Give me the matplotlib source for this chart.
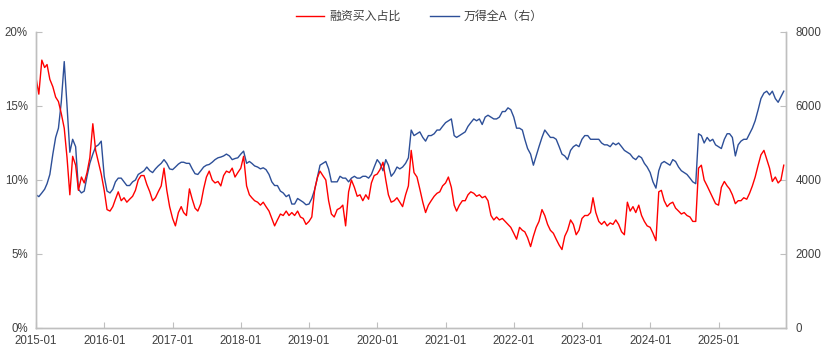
import numpy as np
import pandas as pd
import matplotlib
matplotlib.use("Agg")
import matplotlib.pyplot as plt
import matplotlib.dates as mdates
from matplotlib.ticker import FuncFormatter, MultipleLocator

plt.rcParams['font.family'] = ['Liberation Sans', 'Noto Sans CJK SC', 'DejaVu Sans']

# semi-monthly readings (1st and 16th of each month), Jan 2015 - Dec 2025
# 融资买入占比, %
margin_buy_pct = [
    16.9, 15.8, 18.1, 17.6, 17.8, 16.8, 16.3, 15.6, 15.3, 14.5, 13.5, 11.5,
    9.0, 11.6, 11.0, 9.3, 10.2, 9.8, 10.5, 11.5, 13.8, 12.0, 11.2, 10.4,   # 2015
    9.3, 8.0, 7.9, 8.2, 8.7, 9.2, 8.6, 8.8, 8.5, 8.7, 8.9, 9.3,
    10.0, 10.3, 10.3, 9.7, 9.2, 8.6, 8.8, 9.2, 9.6, 10.8, 9.3, 8.2,        # 2016
    7.4, 6.9, 7.8, 8.2, 7.8, 7.6, 9.4, 8.7, 8.1, 7.9, 8.4, 9.4,
    10.2, 10.6, 10.0, 9.8, 9.9, 9.6, 10.3, 10.6, 10.5, 10.8, 10.2, 10.5,   # 2017
    10.8, 11.6, 9.6, 9.0, 8.8, 8.6, 8.5, 8.3, 8.5, 8.2, 7.9, 7.4,
    6.9, 7.3, 7.7, 7.6, 7.9, 7.6, 7.8, 7.6, 7.9, 7.5, 7.4, 7.0,            # 2018
    7.2, 7.5, 9.4, 10.2, 10.6, 10.3, 10.0, 8.6, 7.7, 7.5, 8.0, 8.1,
    8.3, 6.9, 9.2, 10.0, 9.5, 8.9, 9.0, 8.6, 9.0, 8.7, 9.8, 10.3,          # 2019
    10.4, 10.7, 11.2, 10.0, 9.0, 8.5, 8.6, 8.8, 8.5, 8.2, 9.0, 9.6,
    12.0, 10.5, 10.2, 9.4, 8.5, 7.8, 8.3, 8.6, 8.9, 9.1, 9.2, 9.6,         # 2020
    9.8, 10.2, 9.5, 8.3, 7.9, 8.3, 8.6, 8.6, 9.0, 9.2, 9.1, 8.9,
    9.0, 8.8, 8.9, 8.6, 7.6, 7.3, 7.5, 7.3, 7.4, 7.2, 7.0, 6.8,            # 2021
    6.4, 6.0, 6.8, 6.6, 6.5, 6.1, 5.5, 6.2, 6.8, 7.2, 8.0, 7.6,
    7.0, 6.6, 6.4, 6.0, 5.6, 5.3, 6.2, 6.6, 7.3, 7.0, 6.3, 6.6,            # 2022
    7.4, 7.6, 7.6, 7.8, 8.8, 7.8, 7.2, 7.0, 7.2, 6.9, 7.1, 7.0,
    7.3, 7.0, 6.5, 6.3, 8.5, 7.9, 8.2, 7.8, 8.3, 7.6, 7.2, 6.9,            # 2023
    6.8, 6.4, 5.9, 9.2, 9.3, 8.6, 8.2, 8.4, 8.5, 8.1, 7.9, 7.7,
    7.8, 7.6, 7.5, 7.2, 7.2, 10.8, 11.0, 10.0, 9.6, 9.2, 8.8, 8.4,         # 2024
    8.3, 9.5, 9.9, 9.6, 9.4, 9.0, 8.4, 8.6, 8.6, 8.8, 8.7, 9.1,
    9.6, 10.2, 11.0, 11.7, 12.0, 11.4, 10.8, 9.9, 10.2, 9.8, 10.0, 11.0,   # 2025
]

# 万得全A 指数点位
wind_all_a = [
    3600, 3550, 3650, 3750, 3900, 4150, 4700, 5150, 5400, 6100, 7200, 6000,
    4750, 5100, 4900, 3750, 3650, 3700, 4100, 4450, 4700, 4900, 4950, 5050,   # 2015
    4100, 3700, 3650, 3750, 3950, 4050, 4050, 3950, 3850, 3850, 3950, 4000,
    4150, 4200, 4250, 4350, 4250, 4200, 4300, 4380, 4450, 4550, 4450, 4300,   # 2016
    4280, 4350, 4430, 4480, 4480, 4450, 4450, 4300, 4170, 4150, 4250, 4350,
    4400, 4420, 4480, 4550, 4600, 4620, 4650, 4700, 4650, 4550, 4580, 4600,   # 2017
    4700, 4780, 4450, 4500, 4450, 4380, 4350, 4300, 4330, 4280, 4150, 3950,
    3850, 3850, 3700, 3650, 3550, 3600, 3350, 3350, 3500, 3450, 3400, 3330,   # 2018
    3350, 3500, 3750, 4100, 4400, 4450, 4500, 4300, 3950, 3950, 3950, 4100,
    4050, 4050, 3950, 4050, 4100, 4050, 4050, 4100, 4100, 4050, 4150, 4350,   # 2019
    4550, 4450, 4250, 4550, 4400, 4100, 4200, 4350, 4300, 4350, 4450, 4600,
    5350, 5200, 5250, 5300, 5150, 5050, 5200, 5200, 5250, 5350, 5350, 5450,   # 2020
    5550, 5600, 5650, 5200, 5150, 5200, 5250, 5300, 5450, 5550, 5650, 5600,
    5650, 5500, 5700, 5750, 5700, 5650, 5650, 5700, 5850, 5850, 5950, 5900,   # 2021
    5700, 5400, 5400, 5350, 5100, 4850, 4700, 4400, 4650, 4900, 5150, 5350,
    5250, 5150, 5150, 5100, 4900, 4700, 4650, 4550, 4800, 4900, 4950, 4900,   # 2022
    5100, 5200, 5200, 5100, 5100, 5100, 5100, 5000, 4950, 4950, 4900, 5000,
    4950, 5000, 4900, 4800, 4750, 4700, 4600, 4550, 4650, 4600, 4450, 4350,   # 2023
    4200, 3950, 3780, 4250, 4450, 4500, 4450, 4400, 4550, 4500, 4350, 4250,
    4200, 4150, 4050, 3950, 3900, 5250, 5200, 5000, 5150, 5050, 5100, 4950,   # 2024
    4900, 4850, 5100, 5250, 5250, 5150, 4650, 4950, 5050, 5100, 5100, 5250,
    5400, 5600, 5900, 6200, 6350, 6400, 6300, 6400, 6200, 6100, 6250, 6400,  # 2025
]

months = pd.date_range("2015-01-01", "2025-12-01", freq="MS")
dates = np.array([d + pd.Timedelta(days=k) for d in months for k in (0, 15)])

red = "#FF0000"
blue = "#2D4F98"
grey = "#BFBFBF"
text_c = "#404040"

fig = plt.figure(figsize=(8.32, 3.5), dpi=100)
ax = fig.add_axes([0.0433, 0.0629, 0.9014, 0.8457])
ax2 = ax.twinx()

l1, = ax.plot(dates, margin_buy_pct, color=red, lw=1.0, label="融资买入占比")
l2, = ax2.plot(dates, wind_all_a, color=blue, lw=1.0, label="万得全A（右）")
ax.set_zorder(ax2.get_zorder() + 1)
ax.patch.set_visible(False)

ax.set_xlim(pd.Timestamp("2015-01-01"), pd.Timestamp("2025-12-28"))
ax.set_ylim(0, 20)
ax2.set_ylim(0, 8000)
ax.yaxis.set_major_locator(MultipleLocator(5))
ax.yaxis.set_major_formatter(FuncFormatter(lambda v, p: f"{v:.0f}%"))
ax2.yaxis.set_major_locator(MultipleLocator(2000))
ax.xaxis.set_major_locator(mdates.YearLocator(month=1, day=1))
ax.xaxis.set_major_formatter(mdates.DateFormatter("%Y-%m"))

for a in (ax, ax2):
    a.spines["top"].set_visible(False)
    for side in ("left", "right", "bottom"):
        a.spines[side].set_color(grey)
        a.spines[side].set_linewidth(1.0)
    a.tick_params(direction="in", length=4, width=0.8, color=grey,
                  labelsize=8.3, labelcolor=text_c)
ax.tick_params(axis="y", pad=6)
ax2.tick_params(axis="y", pad=7)
ax.tick_params(axis="x", pad=5)

fig.legend(handles=[l1, l2], loc="center", bbox_to_anchor=(0.504, 0.951),
           ncol=2, frameon=False, fontsize=8.6, handlelength=2.4,
           columnspacing=2.5, handletextpad=0.4, labelcolor=text_c)

fig.savefig("out.png", dpi=100)
